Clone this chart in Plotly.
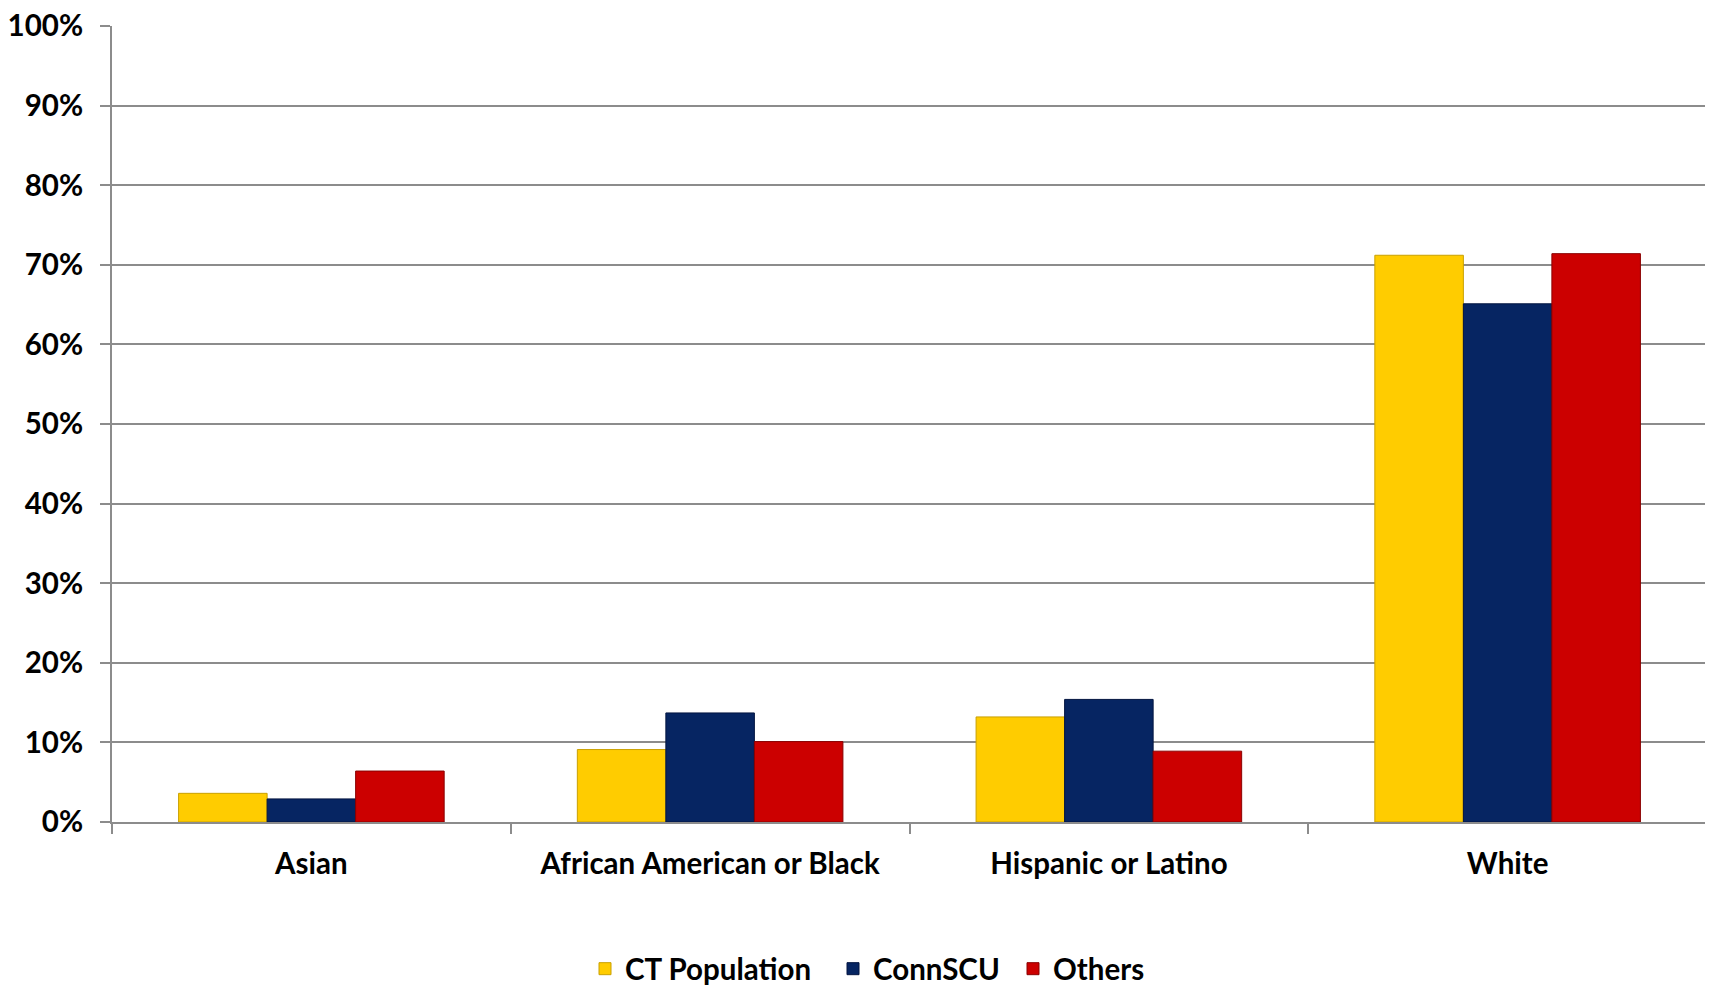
import plotly.graph_objects as go

categories = ["Asian", "African American or Black", "Hispanic or Latino", "White"]
ct_population = [0.036, 0.091, 0.132, 0.712]
connscu = [0.029, 0.137, 0.154, 0.651]
others = [0.064, 0.101, 0.089, 0.714]
y_ticks = [0, 0.1, 0.2, 0.3, 0.4, 0.5, 0.6, 0.7, 0.8, 0.9, 1.0]

FONT = "Lato"
GRID = "#8c8c8c"
FS = 29.5
W, H = 1713, 985

fig = go.Figure()
series = [
    ("CT Population", ct_population, "#FFCC00", "#C9A000", "legend", 577),
    ("ConnSCU", connscu, "#062562", "#031540", "legend2", 825),
    ("Others", others, "#CC0000", "#8A0000", "legend3", 1005),
]
legends = {}
for name, vals, col, edge, lg, lx in series:
    fig.add_trace(go.Bar(
        name=name, x=categories, y=vals, legend=lg,
        marker=dict(color=col, line=dict(color=edge, width=1)),
    ))
    legends[lg] = dict(
        orientation="h", xref="container", x=lx / W, xanchor="left",
        yref="container", y=24 / H, yanchor="middle",
        font=dict(family=FONT, size=FS, color="black", weight="bold"),
        itemwidth=30, bgcolor="rgba(0,0,0,0)",
    )

fig.update_layout(
    width=W, height=H,
    margin=dict(l=104, r=14, t=18, b=171, autoexpand=False),
    paper_bgcolor="white", plot_bgcolor="white",
    barmode="group", bargap=0.334, bargroupgap=0,
    font=dict(family=FONT, size=FS, color="black"),
    showlegend=True,
    xaxis=dict(
        type="category", showgrid=False, showline=True, linecolor=GRID, linewidth=2,
        ticks="outside", ticklen=10, tickcolor=GRID, tickwidth=2, tickson="boundaries",
        tickfont=dict(family=FONT, size=FS, color="black", weight="bold"),
        ticklabelstandoff=15, automargin=False,
    ),
    yaxis=dict(
        range=[0, 1.0], tickvals=y_ticks, tickformat=".0%",
        showgrid=True, gridcolor=GRID, gridwidth=2,
        showline=True, linecolor=GRID, linewidth=2,
        ticks="outside", ticklen=10, tickcolor=GRID, tickwidth=2,
        tickfont=dict(family=FONT, size=FS, color="black", weight="bold"),
        ticklabelstandoff=11, zeroline=False, automargin=False,
        ticklabeloverflow="allow",
    ),
    **legends,
)

fig.write_html("out.html")
